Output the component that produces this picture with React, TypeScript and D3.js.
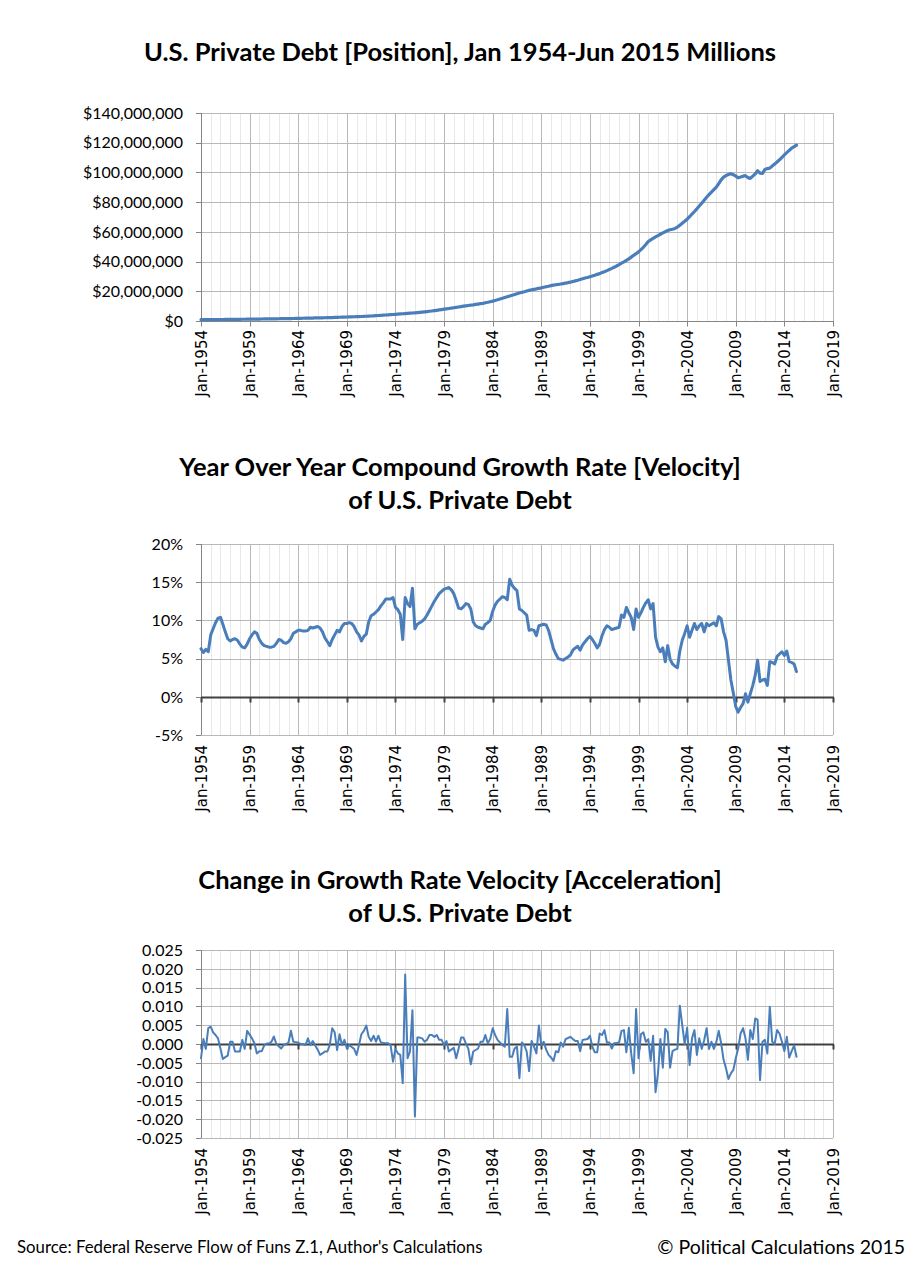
import * as d3 from "d3";
import React, { useEffect, useRef } from "react";

// Quarterly observations, Jan 1954 .. 2015 Q2 (246 quarters)
const FIRST_YEAR = 1954;
const QUARTER_COUNT = 246;
const quarterDates = d3.range(QUARTER_COUNT).map((i) => new Date(FIRST_YEAR, i * 3, 1));

// Axis years (labels every 5 years, minor grid every year)
const axisYears = [1954, 1959, 1964, 1969, 1974, 1979, 1984, 1989, 1994, 1999, 2004, 2009, 2014, 2019];

// Private debt position, $ millions expressed in units of 1,000,000 (i.e. 118.4 = $118,400,000)
const debtPosition = [
  0.86, 0.87, 0.88, 0.9, 0.91, 0.93, 0.95, 0.98, 1.0, 1.02, 1.04, 1.05, 1.07, 1.09, 1.11, 1.13,
  1.15, 1.17, 1.19, 1.21, 1.23, 1.25, 1.28, 1.3, 1.32, 1.34, 1.37, 1.39, 1.41, 1.43, 1.46, 1.48,
  1.51, 1.54, 1.57, 1.59, 1.62, 1.65, 1.69, 1.72, 1.76, 1.8, 1.84, 1.88, 1.92, 1.96, 2.0, 2.05,
  2.09, 2.13, 2.17, 2.2, 2.24, 2.28, 2.33, 2.39, 2.45, 2.51, 2.56, 2.62, 2.68, 2.74, 2.8, 2.85,
  2.9, 2.96, 3.04, 3.12, 3.2, 3.29, 3.38, 3.48, 3.58, 3.69, 3.8, 3.92, 4.04, 4.16, 4.27, 4.37,
  4.47, 4.6, 4.74, 4.88, 5.02, 5.14, 5.26, 5.39, 5.51, 5.66, 5.82, 5.98, 6.15, 6.34, 6.54, 6.74,
  6.95, 7.19, 7.44, 7.69, 7.94, 8.19, 8.44, 8.69, 8.93, 9.19, 9.45, 9.71, 9.98, 10.22, 10.46, 10.7,
  10.9, 11.15, 11.4, 11.65, 11.9, 12.25, 12.6, 13.0, 13.4, 13.85, 14.3, 14.8, 15.3, 15.8, 16.3, 16.8,
  17.3, 17.8, 18.3, 18.8, 19.3, 19.7, 20.2, 20.6, 21.0, 21.3, 21.6, 22.0, 22.3, 22.7, 23.1, 23.4,
  23.8, 24.1, 24.4, 24.6, 24.9, 25.2, 25.5, 25.8, 26.2, 26.6, 27.0, 27.4, 27.9, 28.4, 28.9, 29.3,
  29.8, 30.3, 30.8, 31.4, 31.9, 32.6, 33.2, 33.9, 34.6, 35.4, 36.2, 37.0, 37.9, 38.9, 39.8, 40.8,
  41.8, 43.0, 44.2, 45.3, 46.5, 48.0, 49.6, 51.5, 53.5, 54.6, 55.6, 56.6, 57.5, 58.4, 59.3, 60.1,
  60.9, 61.4, 61.8, 62.3, 63.2, 64.5, 65.8, 67.1, 68.5, 70.2, 72.0, 73.7, 75.5, 77.4, 79.3, 81.3,
  83.3, 85.0, 86.7, 88.4, 90.1, 92.5, 95.0, 96.8, 97.9, 98.6, 99.1, 98.5, 97.5, 96.4, 96.9, 97.5,
  97.8, 96.5, 96.0, 97.5, 99.0, 101.1, 99.5, 99.3, 102.0, 102.6, 102.9, 104.3, 105.6, 107.0, 108.5, 110.2,
  111.8, 113.3, 114.8, 116.3, 117.3, 118.4,
];

// Year over year growth rate, percent
const growthVelocity = [
  6.3, 5.8, 6.2, 5.9, 8.1, 8.9, 9.7, 10.3, 10.4, 9.5, 8.5, 7.6, 7.3, 7.5, 7.6, 7.4,
  6.9, 6.5, 6.4, 6.9, 7.6, 8.1, 8.5, 8.3, 7.5, 7.0, 6.7, 6.6, 6.5, 6.5, 6.6, 7.0,
  7.5, 7.4, 7.1, 7.0, 7.2, 7.6, 8.3, 8.5, 8.7, 8.7, 8.6, 8.6, 8.7, 9.1, 9.0, 9.1,
  9.2, 9.0, 8.5, 7.7, 7.2, 6.7, 7.5, 8.1, 8.7, 8.5, 9.2, 9.6, 9.6, 9.7, 9.6, 9.2,
  8.5, 8.1, 7.3, 7.9, 8.2, 9.8, 10.6, 10.8, 11.1, 11.4, 11.9, 12.3, 12.8, 12.8, 12.8, 13.0,
  11.7, 11.4, 10.8, 7.5, 13.0, 12.2, 11.8, 14.2, 8.9, 9.5, 9.7, 9.9, 10.2, 10.7, 11.3, 11.9,
  12.5, 13.0, 13.5, 13.8, 14.1, 14.2, 14.3, 14.0, 13.5, 12.6, 11.6, 11.5, 11.8, 12.2, 12.1, 11.5,
  9.8, 9.3, 9.1, 9.0, 8.9, 9.5, 9.7, 10.0, 11.2, 12.0, 12.5, 12.8, 13.1, 13.0, 12.7, 15.4,
  14.6, 14.2, 13.9, 11.5, 11.3, 11.0, 10.7, 8.7, 8.8, 8.7, 8.0, 9.3, 9.4, 9.5, 9.4, 8.7,
  7.5, 6.3, 5.6, 5.0, 4.9, 4.8, 5.0, 5.2, 5.5, 6.1, 6.4, 6.6, 6.1, 6.8, 7.2, 7.6,
  7.9, 7.5, 7.0, 6.4, 6.9, 8.0, 8.8, 9.3, 9.1, 8.8, 8.9, 9.0, 9.1, 10.7, 10.4, 11.7,
  11.0, 10.4, 8.8, 11.5, 10.4, 11.0, 11.7, 12.3, 12.7, 11.5, 12.2, 7.8, 6.5, 5.9, 6.4, 4.6,
  6.7, 4.9, 4.3, 4.0, 3.8, 6.0, 7.4, 8.3, 9.3, 7.8, 8.7, 9.6, 8.8, 9.3, 9.6, 8.5,
  9.6, 9.3, 9.5, 9.7, 9.3, 10.5, 10.2, 8.5, 7.4, 4.8, 2.2, 0.5, -1.3, -2.0, -1.4, -0.9,
  0.4, -0.7, 0.4, 1.5, 2.8, 4.8, 2.0, 2.2, 2.3, 1.5, 4.6, 4.5, 4.3, 5.3, 5.6, 5.9,
  5.4, 6.0, 4.6, 4.5, 4.3, 3.3,
];

// Change in growth rate velocity
const growthAcceleration = [
  -0.0038, 0.0013, -0.0013, 0.0042, 0.0046, 0.0031, 0.0024, 0.0015, -0.0012, -0.004, -0.0035, -0.0031, 0.0006, 0.0006, -0.002, -0.002,
  -0.002, 0.0011, -0.0013, 0.0035, 0.0025, 0.0015, 0.0002, -0.0025, -0.0019, -0.0019, -0.0004, 0.0001, 0.0001, 0.0006, 0.002, 0.0,
  -0.0006, -0.0012, -0.0003, 0.0, 0.0004, 0.0035, 0.0006, 0.0005, 0.0004, 0.0, 0.0, -0.0003, 0.0015, -0.0003, 0.0008, -0.0004,
  -0.0015, -0.0029, -0.0025, -0.002, -0.002, -0.0003, 0.0042, 0.0031, -0.0016, 0.0026, -0.0003, 0.0011, -0.0012, -0.0003, -0.0008, -0.0013,
  -0.0029, -0.0003, 0.0026, 0.0035, 0.0049, 0.0019, 0.0008, 0.0022, 0.0006, 0.0022, 0.0004, 0.0003, 0.0002, 0.0002, -0.0003, -0.0047,
  -0.0013, -0.0025, -0.0029, -0.0104, 0.0185, -0.0038, -0.002, 0.009, -0.0193, 0.0017, 0.0017, 0.0015, 0.0006, 0.0011, 0.0024, 0.0024,
  0.0019, 0.0024, 0.0011, 0.0011, -0.0003, 0.0008, -0.002, -0.0015, -0.001, -0.0038, -0.0012, 0.0017, 0.0017, 0.0001, -0.0013, -0.0054,
  -0.002, -0.0016, -0.0012, 0.0006, 0.0006, 0.0024, 0.0002, 0.0013, 0.0042, 0.0024, 0.0011, 0.0004, -0.0003, -0.0007, 0.0093, -0.0034,
  -0.0034, -0.0012, -0.0007, -0.0091, 0.0004, -0.0003, -0.002, -0.0072, 0.0008, -0.0007, -0.0025, 0.0049, -0.0003, 0.0006, -0.0015, -0.0029,
  -0.0036, -0.0045, -0.0019, -0.0022, 0.0004, -0.0007, 0.0013, 0.0016, 0.0019, 0.0013, 0.0008, 0.0008, -0.0019, 0.0011, 0.0012, 0.0013,
  0.0022, -0.0007, -0.0022, -0.0022, 0.0028, 0.0024, 0.0037, 0.0004, 0.0004, -0.0012, 0.0002, 0.0003, 0.0004, 0.0035, 0.0037, -0.0022,
  0.0043, -0.0025, -0.0078, 0.0093, -0.0038, 0.0026, 0.0031, 0.0006, 0.0013, -0.0045, 0.0022, -0.0128, -0.0078, 0.0013, -0.0063, 0.004,
  0.0031, -0.0063, -0.0019, -0.0015, -0.0013, 0.0102, 0.005, 0.0, 0.0043, -0.0056, 0.0015, 0.0037, -0.0029, 0.0015, -0.0013, 0.001,
  0.0042, -0.0013, 0.0006, -0.0013, 0.0005, 0.0035, 0.0002, -0.0042, -0.0065, -0.0093, -0.0078, -0.0069, -0.0038, -0.0012, 0.0028, 0.0042,
  0.0015, -0.0042, 0.0037, 0.0013, 0.0068, 0.0064, -0.0096, 0.0006, 0.0011, -0.0025, 0.0099, 0.0006, 0.0, 0.0037, 0.0028, 0.0006,
  -0.0019, 0.0019, -0.0036, -0.0019, -0.0004, -0.0034,
];

const positionTicks = [0, 20, 40, 60, 80, 100, 120, 140];
const velocityTicks = [-5, 0, 5, 10, 15, 20];
const accelerationTicks = [-0.025, -0.02, -0.015, -0.01, -0.005, 0, 0.005, 0.01, 0.015, 0.02, 0.025];

const LINE_BLUE = "#4a7ebb";
const TITLE_FONT = "Lato, 'Open Sans', sans-serif";
const TICK_FONT = "'DejaVu Sans', Verdana, sans-serif";

interface PanelOptions {
  top: number;
  bottom: number;
  ticks: number[];
  format: (v: number) => string;
  values: number[];
  lineWidth: number;
  zeroDark: boolean;
  labelTop: number;
}

const PLOT_LEFT = 201;
const PLOT_RIGHT = 833;

function drawPanel(svg: d3.Selection<SVGSVGElement, unknown, null, undefined>, o: PanelOptions) {
  const x = d3
    .scaleTime()
    .domain([new Date(1954, 0, 1), new Date(2019, 0, 1)])
    .range([PLOT_LEFT, PLOT_RIGHT]);
  const y = d3
    .scaleLinear()
    .domain([o.ticks[0], o.ticks[o.ticks.length - 1]])
    .range([o.bottom, o.top]);

  const g = svg.append("g");

  // minor vertical grid, every year
  g.selectAll(".minor")
    .data(d3.range(1954, 2020))
    .join("line")
    .attr("x1", (d) => Math.round(x(new Date(d, 0, 1))) + 0.5)
    .attr("x2", (d) => Math.round(x(new Date(d, 0, 1))) + 0.5)
    .attr("y1", o.top)
    .attr("y2", o.bottom)
    .attr("stroke", "#e8e8e8")
    .attr("stroke-width", 1);

  // major vertical grid
  g.selectAll(".major")
    .data(axisYears)
    .join("line")
    .attr("x1", (d) => Math.round(x(new Date(d, 0, 1))) + 0.5)
    .attr("x2", (d) => Math.round(x(new Date(d, 0, 1))) + 0.5)
    .attr("y1", o.top)
    .attr("y2", o.bottom)
    .attr("stroke", "#b8b8b8")
    .attr("stroke-width", 1);

  // horizontal grid
  g.selectAll(".hgrid")
    .data(o.ticks)
    .join("line")
    .attr("x1", PLOT_LEFT)
    .attr("x2", PLOT_RIGHT)
    .attr("y1", (d) => Math.round(y(d)) + 0.5)
    .attr("y2", (d) => Math.round(y(d)) + 0.5)
    .attr("stroke", "#b8b8b8")
    .attr("stroke-width", 1);

  // vertical axis with outward ticks
  g.append("line")
    .attr("x1", PLOT_LEFT + 0.5)
    .attr("x2", PLOT_LEFT + 0.5)
    .attr("y1", o.top)
    .attr("y2", o.bottom)
    .attr("stroke", "#868686");
  g.selectAll(".ytick")
    .data(o.ticks)
    .join("line")
    .attr("x1", PLOT_LEFT - 5)
    .attr("x2", PLOT_LEFT)
    .attr("y1", (d) => Math.round(y(d)) + 0.5)
    .attr("y2", (d) => Math.round(y(d)) + 0.5)
    .attr("stroke", "#868686");

  g.selectAll(".ylabel")
    .data(o.ticks)
    .join("text")
    .attr("x", 183)
    .attr("y", (d) => y(d))
    .attr("dy", "0.36em")
    .attr("text-anchor", "end")
    .attr("font-family", TITLE_FONT)
    .attr("font-size", 16)
    .attr("fill", "#000")
    .text((d) => o.format(d));

  // horizontal axis at zero
  const y0 = Math.round(y(0)) + 0.5;
  const axisColor = o.zeroDark ? "#404040" : "#868686";
  const axisWidth = o.zeroDark ? 2 : 1;
  g.append("line")
    .attr("x1", PLOT_LEFT)
    .attr("x2", PLOT_RIGHT + 1)
    .attr("y1", y0)
    .attr("y2", y0)
    .attr("stroke", axisColor)
    .attr("stroke-width", axisWidth);
  g.selectAll(".xtick")
    .data(axisYears)
    .join("line")
    .attr("x1", (d) => Math.round(x(new Date(d, 0, 1))) + 0.5)
    .attr("x2", (d) => Math.round(x(new Date(d, 0, 1))) + 0.5)
    .attr("y1", y0)
    .attr("y2", y0 + 5)
    .attr("stroke", axisColor)
    .attr("stroke-width", axisWidth);

  // rotated date labels
  const fmt = d3.timeFormat("%b-%Y");
  g.selectAll(".xlabel")
    .data(axisYears)
    .join("text")
    .attr("transform", (d) => `translate(${x(new Date(d, 0, 1)) + 5.5},${o.labelTop}) rotate(-90)`)
    .attr("text-anchor", "end")
    .attr("font-family", TICK_FONT)
    .attr("font-size", 15)
    .attr("fill", "#000")
    .text((d) => fmt(new Date(d, 0, 1)));

  // series
  const line = d3
    .line<number>()
    .x((_, i) => x(quarterDates[i]))
    .y((d) => y(d));
  g.append("path")
    .datum(o.values)
    .attr("fill", "none")
    .attr("stroke", LINE_BLUE)
    .attr("stroke-width", o.lineWidth)
    .attr("stroke-linejoin", "round")
    .attr("stroke-linecap", "round")
    .attr("d", line);
}

const App: React.FC = () => {
  const svgRef = useRef<SVGSVGElement>(null);

  useEffect(() => {
    document.body.style.margin = "0";
    if (!svgRef.current) return;
    const svg = d3.select(svgRef.current);
    svg.selectAll("*").remove();

    svg.append("rect").attr("width", 917).attr("height", 1266).attr("fill", "#fff");

    const title = (lines: string[], y: number) => {
      lines.forEach((t, i) => {
        svg
          .append("text")
          .attr("x", 460)
          .attr("y", y + i * 33)
          .attr("text-anchor", "middle")
          .attr("font-family", TITLE_FONT)
          .attr("font-weight", "bold")
          .attr("font-size", 25.5)
          .attr("fill", "#000")
          .text(t);
      });
    };

    title(["U.S. Private Debt [Position], Jan 1954-Jun 2015 Millions"], 61);
    title(["Year Over Year Compound Growth Rate [Velocity]", "of U.S. Private Debt"], 476);
    title(["Change in Growth Rate Velocity [Acceleration]", "of U.S. Private Debt"], 889);

    drawPanel(svg, {
      top: 113,
      bottom: 321,
      ticks: positionTicks,
      format: (v) => "$" + d3.format(",")(v * 1000000),
      values: debtPosition,
      lineWidth: 3.2,
      zeroDark: false,
      labelTop: 330,
    });

    drawPanel(svg, {
      top: 544,
      bottom: 735,
      ticks: velocityTicks,
      format: (v) => `${v}%`,
      values: growthVelocity,
      lineWidth: 3,
      zeroDark: true,
      labelTop: 745,
    });

    drawPanel(svg, {
      top: 950,
      bottom: 1138,
      ticks: accelerationTicks,
      format: (v) => v.toFixed(3).replace(/^-0\.000$/, "0.000"),
      values: growthAcceleration,
      lineWidth: 2,
      zeroDark: true,
      labelTop: 1148,
    });

    // footer
    svg
      .append("text")
      .attr("x", 17)
      .attr("y", 1253)
      .attr("font-family", TITLE_FONT)
      .attr("font-size", 16.8)
      .attr("fill", "#000")
      .text("Source: Federal Reserve Flow of Funs Z.1, Author's Calculations");
    svg
      .append("text")
      .attr("x", 905)
      .attr("y", 1254)
      .attr("text-anchor", "end")
      .attr("font-family", TITLE_FONT)
      .attr("font-size", 19.5)
      .attr("fill", "#000")
      .text("\u00A9 Political Calculations 2015");
  }, []);

  return <svg ref={svgRef} width={917} height={1266} style={{ display: "block" }} />;
};

export default App;
